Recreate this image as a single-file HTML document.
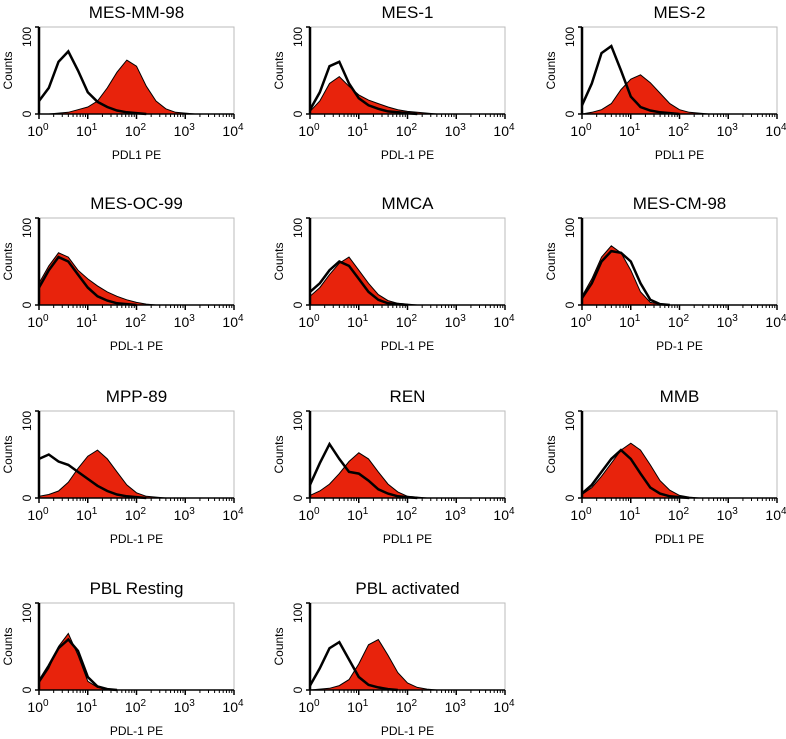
<!DOCTYPE html>
<html><head><meta charset="utf-8"><style>
body{margin:0;background:#fff;}
svg{display:block;font-family:"Liberation Sans",sans-serif;}
</style></head><body>
<svg id="fig" width="786" height="739" viewBox="0 0 786 739"></svg>
<script>
const titles=["MES-MM-98","MES-1","MES-2","MES-OC-99","MMCA","MES-CM-98","MPP-89","REN","MMB","PBL Resting","PBL activated"];
const xlabels=["PDL1 PE","PDL-1 PE","PDL1 PE","PDL-1 PE","PDL-1 PE","PD-1 PE","PDL-1 PE","PDL1 PE","PDL1 PE","PDL-1 PE","PDL-1 PE"];
const tickLabels=["0","1","2","3","4"];
// values at log10 positions 0,0.2,0.4,... (counts 0-100)
const blackSeries=[
[15,30,60,72,50,25,14,8,4,2,1,0],
[5,25,55,60,35,18,10,6,3,2,1,0],
[10,35,70,78,50,20,8,4,2,1,0],
[20,40,55,50,35,20,10,5,2,1,0],
[15,25,40,50,45,30,15,6,2,1,0],
[8,25,50,62,60,50,25,6,1,0],
[45,50,42,38,30,22,14,8,4,2,1,0],
[15,40,62,45,30,28,20,10,5,2,1,0],
[5,15,30,45,55,45,28,12,5,2,1,0],
[10,28,48,58,45,15,4,1,0],
[5,25,48,55,35,15,6,3,1,0]];
const redSeries=[
[0,0,1,2,5,8,15,30,48,62,55,32,15,6,2,1,0],
[3,15,35,43,32,22,16,12,8,5,3,2,1,0],
[0,2,5,12,28,40,45,36,24,12,5,2,1,0],
[25,45,60,55,40,30,22,15,10,6,3,1,0],
[10,20,35,48,55,40,25,12,5,2,1,0],
[10,30,55,68,60,40,15,3,1,0],
[2,4,8,18,34,48,55,45,30,15,6,2,1,0],
[3,8,16,28,42,52,45,30,16,7,2,1,0],
[4,12,25,40,55,63,55,38,20,9,3,1,0],
[8,25,50,65,40,10,3,1,0],
[0,1,2,5,12,30,52,58,40,20,8,3,1,0]];
const NS="http://www.w3.org/2000/svg";
const svg=document.getElementById('fig');
function mk(tag,attrs,parent){const e=document.createElementNS(NS,tag);for(const k in attrs)e.setAttribute(k,attrs[k]);(parent||svg).appendChild(e);return e;}
const colX=[39,310,582],rowY=[27,218,411,603],W=195,H=87,STEP=0.2;
titles.forEach((t,i)=>{
  const x0=colX[i%3],y0=rowY[Math.floor(i/3)];
  const g=mk('g',{});
  
  
  const sx=v=>x0+v/4*W, sy=c=>y0+H-c/100*H;
  mk('rect',{x:x0,y:y0,width:W,height:H,fill:'none',stroke:'#bbb','stroke-width':1},g);
  const r=redSeries[i];let d='M'+sx(0)+','+sy(0);
  r.forEach((v,j)=>{d+=' L'+sx(j*STEP).toFixed(1)+','+sy(v).toFixed(1);});
  d+=' L'+sx((r.length-1)*STEP)+','+sy(0)+' Z';
  const rp=mk('path',{d:d,fill:'#e8230c',stroke:'#000','stroke-width':1},g);
  
  
  const b=blackSeries[i];let p='';
  b.forEach((v,j)=>{p+=sx(j*STEP).toFixed(1)+','+sy(v).toFixed(1)+' ';});
  const bp=mk('polyline',{points:p,fill:'none',stroke:'#000','stroke-width':2.5},g);
  
  
  mk('line',{x1:x0,y1:y0,x2:x0,y2:y0+H,stroke:'#000','stroke-width':2.5},g);
  mk('line',{x1:x0,y1:y0+H,x2:x0+W,y2:y0+H,stroke:'#000','stroke-width':1.5},g);
  mk('line',{x1:x0-4,y1:y0,x2:x0,y2:y0,stroke:'#000','stroke-width':1.5},g);
  mk('line',{x1:x0-4,y1:y0+H,x2:x0,y2:y0+H,stroke:'#000','stroke-width':1.5},g);
  tickLabels.forEach((tl,k)=>{
    const xx=sx(k);
    mk('line',{x1:xx,y1:y0+H,x2:xx,y2:y0+H+5,stroke:'#000','stroke-width':1.5},g);
    if(k<4)for(let m=2;m<10;m++){const mx=sx(k+Math.log10(m));mk('line',{x1:mx,y1:y0+H,x2:mx,y2:y0+H+3,stroke:'#000','stroke-width':1},g);}
    const tx=mk('text',{x:xx-1,y:y0+H+22,'font-size':14,'text-anchor':'middle'},g);
    tx.textContent='10';
    const sp=mk('tspan',{dy:-6,'font-size':10},tx);sp.textContent=tl;
  });
  const yl=mk('text',{transform:`translate(${x0-8},${y0+H}) rotate(-90)`,'font-size':12,'text-anchor':'middle'},g);yl.textContent='0';
  const yh=mk('text',{transform:`translate(${x0-8},${y0+10}) rotate(-90)`,'font-size':12,'text-anchor':'middle'},g);yh.textContent='100';
  const ct=mk('text',{transform:`translate(${x0-27},${y0+H/2}) rotate(-90)`,'font-size':12,'text-anchor':'middle'},g);ct.textContent='Counts';
  const tt=mk('text',{x:x0+W/2,y:y0-9,'font-size':17,'text-anchor':'middle'},g);tt.textContent=t;
  
  
  const xl=mk('text',{x:x0+W/2,y:y0+H+45,'font-size':12,'text-anchor':'middle'},g);xl.textContent=xlabels[i];
  
  
});
</script>
</body></html>
